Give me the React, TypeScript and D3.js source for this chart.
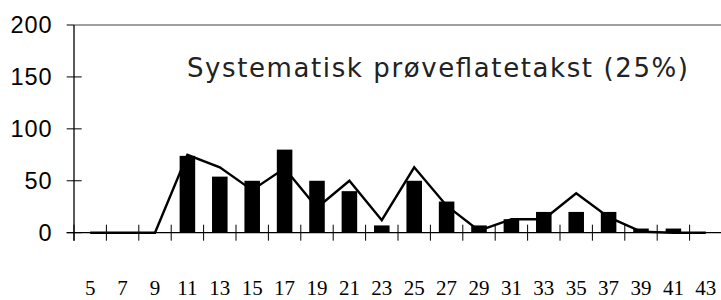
import React from "react";
import * as d3 from "d3";

const categories = ["5","7","9","11","13","15","17","19","21","23","25","27","29","31","33","35","37","39","41","43"];
const barValues = [0,0,0,74,54,50,80,50,40,7,50,30,7,13,20,20,20,4,4,0];
const lineValues = [0,0,0,75,63,41,62,24,50,12,63,26,2,13,13,38,15,1,0,0];
const yTicks = [0,50,100,150,200];
const title = "Systematisk prøveflatetakst (25%)";

const W = 721, H = 300;

export default function App() {
  const x = d3.scaleBand<string>().domain(categories).range([74, 722]).paddingInner(0).paddingOuter(0);
  const y = d3.scaleLinear().domain([0, 200]).range([232.7, 25]);
  const bw = x.bandwidth() * 0.48;
  const cx = (c: string) => (x(c) as number) + x.bandwidth() / 2;
  const line = d3.line<number>().x((_, i) => cx(categories[i])).y((v) => y(v));
  const boundaries = categories.map((c) => x(c) as number);

  return (
    <svg width={W} height={H} style={{ position: "absolute", left: 0, top: 0, background: "#fff" }}>
      <line x1={74} x2={W} y1={y(200)} y2={y(200)} stroke="#808080" strokeWidth={1.5} />
      <path d={line(lineValues) || ""} fill="none" stroke="#000" strokeWidth={2.4} strokeLinejoin="miter" />
      {categories.map((c, i) =>
        barValues[i] > 0 ? (
          <rect key={c} x={cx(c) - bw / 2} y={y(barValues[i])} width={bw} height={y(0) - y(barValues[i])} fill="#000" />
        ) : null
      )}
      <line x1={66.7} x2={W} y1={y(0)} y2={y(0)} stroke="#000" strokeWidth={1.3} />
      {boundaries.map((b, i) => (
        <line key={i} x1={b} x2={b} y1={y(0) - 8} y2={y(0) + 8} stroke="#000" strokeWidth={1} />
      ))}
      <line x1={74} x2={74} y1={y(200)} y2={y(0) + 8} stroke="#000" strokeWidth={1.3} />
      {yTicks.map((t) => (
        <g key={t}>
          <line x1={66.7} x2={t === 200 ? 74 : 81.7} y1={y(t)} y2={y(t)} stroke="#000" strokeWidth={1} />
          <text x={52.7} y={y(t)} dy="0.36em" textAnchor="end" fontFamily="'Liberation Sans', Arial, sans-serif" fontSize={23.5} letterSpacing={1} fill="#000">
            {t}
          </text>
        </g>
      ))}
      {categories.map((c) => (
        <text key={c} x={cx(c)} y={295} textAnchor="middle" fontFamily="'Liberation Serif', 'Times New Roman', serif" fontSize={21} fill="#000">
          {c}
        </text>
      ))}
      <text x={187} y={76.7} fontFamily="'DejaVu Sans', Verdana, sans-serif" fontSize={26} textLength={501} lengthAdjust="spacing" fill="#222">
        {title}
      </text>
    </svg>
  );
}
